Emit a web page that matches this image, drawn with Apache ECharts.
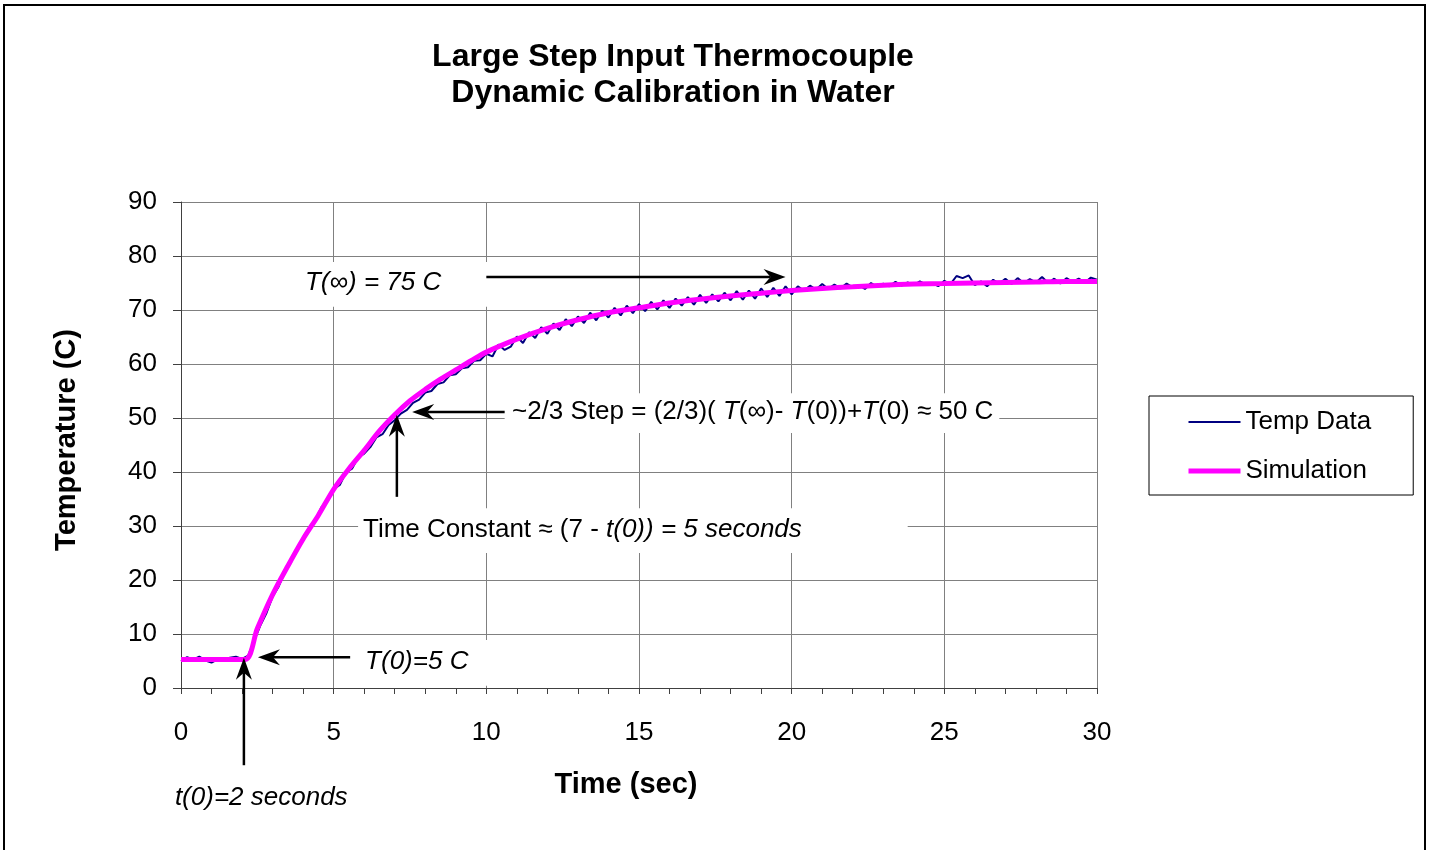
<!DOCTYPE html>
<html>
<head>
<meta charset="utf-8">
<script src="https://cdn.jsdelivr.net/npm/echarts@6/dist/echarts.min.js"></script>
<style>
  html, body { margin: 0; padding: 0; background: #fff; }
  #chart { width: 1434px; height: 850px; }
</style>
</head>
<body>
<div id="chart"></div>
<script>
var FONT = 'Arial, "Liberation Sans", sans-serif';

// measured thermocouple readings, one every 0.2 s from t = 0
var sampleStep = 0.2;
var tempData = [
    5.0, 5.7, 5.3, 5.8, 5.1, 4.7, 5.3, 5.2, 5.6, 5.8, 5.4,
    6.0, 8.8, 11.6, 13.9, 16.9, 18.8, 21.5, 23.2, 25.9, 27.3,
    29.8, 31.0, 33.5, 34.6, 36.8, 37.6, 39.9, 40.6, 42.7, 43.4,
    44.6, 46.4, 47.0, 48.7, 49.6, 50.8, 51.5, 52.8, 53.4, 54.7,
    55.0, 56.3, 56.6, 57.9, 58.1, 59.2, 59.4, 60.6, 60.7, 61.9,
    61.4, 63.6, 62.6, 63.2, 65.1, 63.9, 65.9, 64.8, 66.8, 65.6,
    67.5, 66.3, 68.3, 67.0, 68.8, 67.6, 69.5, 68.1, 69.9, 68.6,
    70.4, 69.0, 70.8, 69.4, 71.1, 69.8, 71.5, 70.1, 71.8, 70.4,
    72.1, 70.8, 72.4, 71.0, 72.8, 71.3, 72.9, 71.6, 73.2, 71.8,
    73.5, 71.9, 73.6, 72.1, 74.0, 72.4, 74.1, 72.6, 74.4, 72.9,
    74.4, 73.6, 74.5, 73.8, 74.8, 73.9, 74.7, 74.0, 74.9, 74.2,
    74.6, 73.9, 75.0, 74.3, 74.9, 74.4, 75.2, 74.5, 75.1, 74.6,
    75.3, 74.7, 75.0, 74.4, 75.4, 74.8, 76.3, 75.9, 76.4, 74.6,
    75.3, 74.4, 75.6, 74.9, 75.8, 74.8, 75.9, 75.0, 75.7, 75.1,
    76.1, 75.0, 75.8, 74.9, 75.9, 75.2, 75.8, 75.1, 76.0, 75.6
];

// first order model response
var simTimes = [0, 1, 2.1, 2.5, 3, 3.5, 4, 4.5, 5, 5.5, 6, 6.5, 7, 7.5, 8, 8.5, 9, 9.5, 10,
    11, 12, 13, 14, 15, 16, 17, 18, 19, 20, 21, 22, 23, 24, 25, 26, 27, 28, 29, 30];
var simTemps = [5.3, 5.3, 5.3, 11.0, 17.3, 22.6, 27.6, 32.0, 36.8, 40.6, 44.0, 47.6, 50.6, 53.2, 55.3, 57.2, 58.9, 60.6, 62.2,
    64.6, 66.6, 68.2, 69.5, 70.4, 71.3, 72.0, 72.6, 73.1, 73.6, 74.0, 74.3, 74.6, 74.8, 74.9, 75.0, 75.1, 75.2, 75.3, 75.3];

var seriesNames = ['Temp Data', 'Simulation'];
var titleLines = ['Large Step Input Thermocouple', 'Dynamic Calibration in Water'];

var tempPairs = tempData.map(function (v, i) { return [+(i * sampleStep).toFixed(2), v]; });
var simPairs = simTimes.map(function (t, i) { return [t, simTemps[i]]; });

var myChart = echarts.init(document.getElementById('chart'));

myChart.setOption({
    animation: false,
    backgroundColor: '#fff',
    grid: { left: 181, right: 337, top: 202, bottom: 162 },
    legend: {
        orient: 'vertical',
        left: 1149,
        top: 396,
        padding: [13, 42, 11, 37],
        itemGap: 23,
        itemWidth: 52,
        itemHeight: 14,
        borderColor: '#000',
        borderWidth: 1,
        itemStyle: { opacity: 0 },
        textStyle: { fontSize: 26, color: '#000', fontFamily: FONT },
        data: [
            { name: seriesNames[0], lineStyle: { width: 2, color: '#000080' } },
            { name: seriesNames[1], lineStyle: { width: 5, color: '#ff00ff' } }
        ]
    },
    xAxis: {
        type: 'value',
        min: 0,
        max: 30,
        interval: 5,
        name: 'Time (sec)',
        nameLocation: 'middle',
        nameGap: 82,
        nameTextStyle: { fontSize: 29, fontWeight: 'bold', color: '#000', fontFamily: FONT, padding: [0, 26, 0, 0] },
        axisLine: { lineStyle: { color: '#404040', width: 1 } },
        axisTick: { length: 6, lineStyle: { color: '#404040' } },
        minorTick: { show: true, splitNumber: 5, length: 6, lineStyle: { color: '#404040' } },
        splitLine: { show: true, lineStyle: { color: '#808080', width: 1 } },
        axisLabel: { fontSize: 26, color: '#000', fontFamily: FONT, margin: 32, showMinLabel: true, showMaxLabel: true }
    },
    yAxis: {
        type: 'value',
        min: 0,
        max: 90,
        interval: 10,
        name: 'Temperature (C)',
        nameLocation: 'middle',
        nameGap: 100,
        nameTextStyle: { fontSize: 29, fontWeight: 'bold', color: '#000', fontFamily: FONT, padding: [0, 0, 0, 10] },
        axisLine: { show: true, lineStyle: { color: '#404040', width: 1 } },
        axisTick: { show: true, length: 8, lineStyle: { color: '#404040' } },
        splitLine: { show: true, lineStyle: { color: '#808080', width: 1 } },
        axisLabel: { fontSize: 26, color: '#000', fontFamily: FONT, margin: 24 }
    },
    series: [
        {
            name: seriesNames[0],
            type: 'line',
            data: tempPairs,
            symbol: 'none',
            lineStyle: { color: '#000080', width: 2 },
            itemStyle: { color: '#000080' },
            z: 2
        },
        {
            name: seriesNames[1],
            type: 'line',
            data: simPairs,
            smooth: 0.3,
            symbol: 'none',
            lineStyle: { color: '#ff00ff', width: 5 },
            itemStyle: { color: '#ff00ff' },
            z: 3
        }
    ]
});

// annotations, placed in data coordinates
function px(t, T) {
    return myChart.convertToPixel({ gridIndex: 0 }, [t, T]);
}

function whiteBox(t1, T1, t2, T2) {
    var a = px(t1, T1), b = px(t2, T2);
    return {
        type: 'rect',
        z: 1,
        silent: true,
        shape: { x: Math.min(a[0], b[0]), y: Math.min(a[1], b[1]), width: Math.abs(b[0] - a[0]), height: Math.abs(b[1] - a[1]) },
        style: { fill: '#fff' }
    };
}

function arrow(from, to) {
    var p0 = px(from[0], from[1]), p1 = px(to[0], to[1]);
    var dx = p1[0] - p0[0], dy = p1[1] - p0[1];
    var len = Math.sqrt(dx * dx + dy * dy);
    var ux = dx / len, uy = dy / len, nx = -uy, ny = ux;
    var headLen = 22, halfW = 8, notch = 15;
    var back = [p1[0] - ux * headLen, p1[1] - uy * headLen];
    var mid = [p1[0] - ux * notch, p1[1] - uy * notch];
    return [
        {
            type: 'line', z: 5, silent: true,
            shape: { x1: p0[0], y1: p0[1], x2: mid[0], y2: mid[1] },
            style: { stroke: '#000', lineWidth: 2.5 }
        },
        {
            type: 'polygon', z: 5, silent: true,
            shape: { points: [p1, [back[0] + nx * halfW, back[1] + ny * halfW], mid, [back[0] - nx * halfW, back[1] - ny * halfW]] },
            style: { fill: '#000' }
        }
    ];
}

function label(t, T, text, italic) {
    var p = px(t, T);
    return {
        type: 'text', z: 6, silent: true,
        x: p[0], y: p[1],
        style: {
            text: text,
            fill: '#000',
            fontSize: 26,
            fontFamily: FONT,
            fontStyle: italic ? 'italic' : 'normal',
            align: 'left',
            verticalAlign: 'middle',
            rich: { i: { fontStyle: 'italic', fontSize: 26, fontFamily: FONT, fill: '#000' } }
        }
    };
}

var graphics = [
    {
        type: 'rect', z: 10, silent: true,
        shape: { x: 4, y: 5, width: 1421, height: 900 },
        style: { fill: 'none', stroke: '#000', lineWidth: 2 }
    },
    {
        type: 'text', z: 6, silent: true,
        x: 673, y: 75,
        style: {
            text: titleLines.join('\n'),
            fill: '#000',
            fontSize: 32,
            fontWeight: 'bold',
            fontFamily: FONT,
            lineHeight: 36,
            align: 'center',
            verticalAlign: 'middle'
        }
    },
    whiteBox(3.57, 78.9, 10.1, 70.6),
    whiteBox(10.6, 54.6, 26.8, 47.2),
    whiteBox(5.8, 33.3, 23.8, 25.0),
    whiteBox(5.37, 8.9, 10.45, 0.4),
    label(4.06, 75.0, 'T(\u221e) = 75 C', true),
    label(10.84, 51.1, '~2/3 Step = (2/3)( {i|T}(\u221e)- {i|T}(0))+{i|T}(0) \u2248 50 C', false),
    label(5.96, 29.3, 'Time Constant \u2248 (7 - {i|t(0)) = 5 seconds}', false),
    label(6.03, 4.8, 'T(0)=5 C', true),
    label(-0.2, -20.4, 't(0)=2 seconds', true)
]
    .concat(arrow([10.0, 76.1], [19.8, 76.1]))
    .concat(arrow([10.6, 51.1], [7.57, 51.1]))
    .concat(arrow([7.07, 35.4], [7.07, 50.6]))
    .concat(arrow([5.54, 5.7], [2.52, 5.7]))
    .concat(arrow([2.06, -14.3], [2.06, 5.6]));

myChart.setOption({ graphic: graphics });
</script>
</body>
</html>
